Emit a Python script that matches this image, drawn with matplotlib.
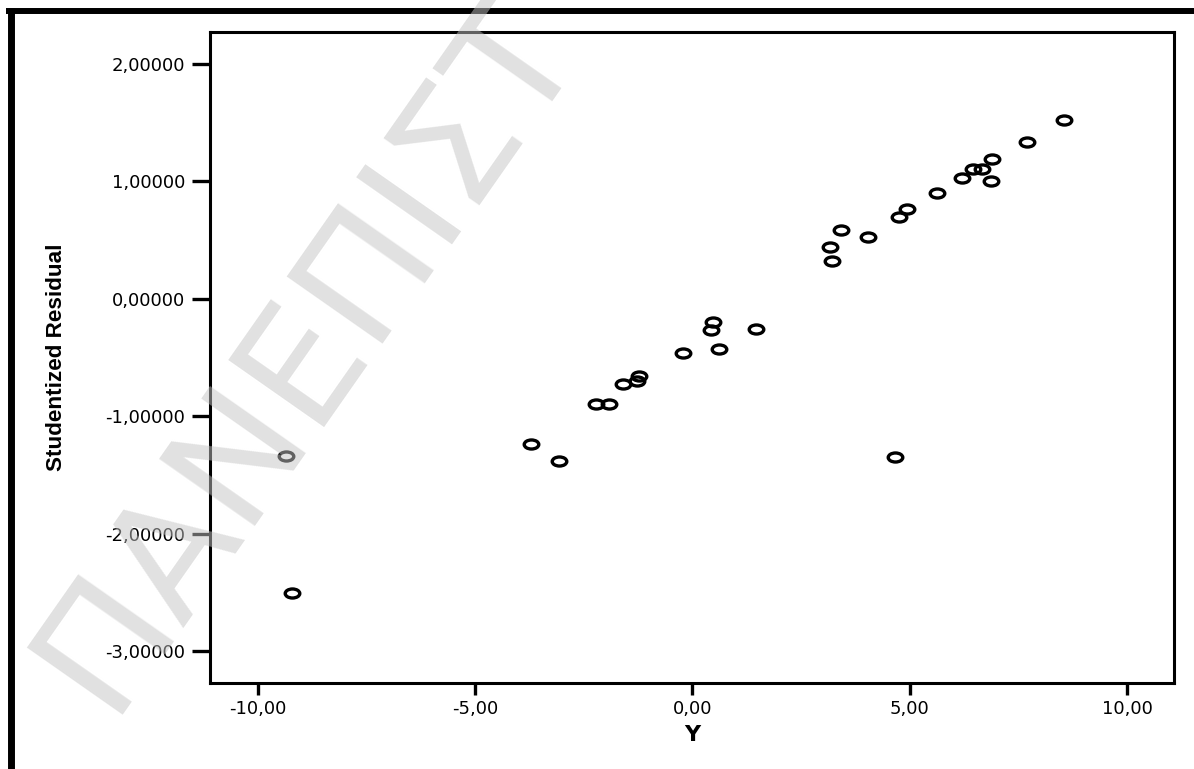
import matplotlib
matplotlib.use("Agg")
import matplotlib.pyplot as plt
from matplotlib.path import Path
from matplotlib.transforms import Affine2D
from matplotlib.lines import Line2D

# Observed response Y and studentized residuals of the fitted model
y_obs = [-9.34, -9.22, -3.72, -3.07, -2.22, -1.91, -1.59, -1.27, -1.22,
         -0.21, 0.42, 0.48, 0.60, 1.46, 3.20, 3.16, 3.41, 4.05, 4.76,
         4.94, 5.63, 6.20, 6.45, 6.66, 6.90, 6.88, 7.69, 8.55, 4.67]
stud_resid = [-1.337, -2.508, -1.240, -1.379, -0.899, -0.899, -0.730, -0.700,
              -0.655, -0.459, -0.266, -0.195, -0.425, -0.255, 0.322, 0.444,
              0.586, 0.529, 0.700, 0.762, 0.898, 1.029, 1.103, 1.103, 1.188,
              1.003, 1.338, 1.523, -1.345]

x_ticks = [-10, -5, 0, 5, 10]
x_tick_labels = ["-10,00", "-5,00", "0,00", "5,00", "10,00"]
y_ticks = [2, 1, 0, -1, -2, -3]
y_tick_labels = ["2,00000", "1,00000", "0,00000", "-1,00000", "-2,00000", "-3,00000"]

W, H = 1194, 769
fig = plt.figure(figsize=(W / 100, H / 100), dpi=100)
fig.patch.set_facecolor("white")

ax = fig.add_axes([210 / W, 1 - 683 / H, 964 / W, 651 / H])

# open, flattened ellipse marker
ellipse = Affine2D().scale(1.0, 0.62).transform_path(Path.unit_circle())
ax.plot(y_obs, stud_resid, linestyle="none", marker=ellipse, markersize=10.5,
        markerfacecolor="none", markeredgecolor="black", markeredgewidth=2.4)

ax.set_xlim(-11.1, 11.08)
ax.set_ylim(-3.273, 2.273)

ax.set_xticks(x_ticks)
ax.set_xticklabels(x_tick_labels)
ax.set_yticks(y_ticks)
ax.set_yticklabels(y_tick_labels)

for s in ax.spines.values():
    s.set_linewidth(2.2)
    s.set_color("black")

ax.tick_params(axis="y", direction="out", length=13, width=2.4, pad=5,
               labelsize=13, colors="black")
ax.tick_params(axis="x", direction="out", length=8.6, width=2.4, pad=4,
               labelsize=13, colors="black")
for lab in ax.get_xticklabels() + ax.get_yticklabels():
    lab.set_family("DejaVu Sans")

ax.set_xlabel("Y", fontsize=16, fontweight="bold", family="DejaVu Sans",
              va="center")
ax.xaxis.set_label_coords(0.5, -0.080)
ax.set_ylabel("Studentized Residual", fontsize=16.2, fontweight="bold",
              family=["Liberation Sans", "DejaVu Sans"], va="center")
ax.yaxis.set_label_coords(-0.159, 0.5)

# frame lines along the top and left edges of the page
fig.add_artist(Line2D([6 / W, 1.0], [1 - 11 / H, 1 - 11 / H],
                      transform=fig.transFigure, color="black",
                      linewidth=4.3, solid_capstyle="butt"))
fig.add_artist(Line2D([10.5 / W, 10.5 / W], [0.0, 1 - 8 / H],
                      transform=fig.transFigure, color="black",
                      linewidth=5.0, solid_capstyle="butt"))

# semi-transparent diagonal watermark
fig.text(107 / W, 1 - 715 / H, "ΠΑΝΕΠΙΣΤ", rotation=55,
         rotation_mode="anchor", ha="left", va="baseline",
         fontsize=116, family="DejaVu Sans", color="#c4c4c4", alpha=0.5,
         zorder=10)

fig.savefig("out.png", dpi=100, facecolor="white")
